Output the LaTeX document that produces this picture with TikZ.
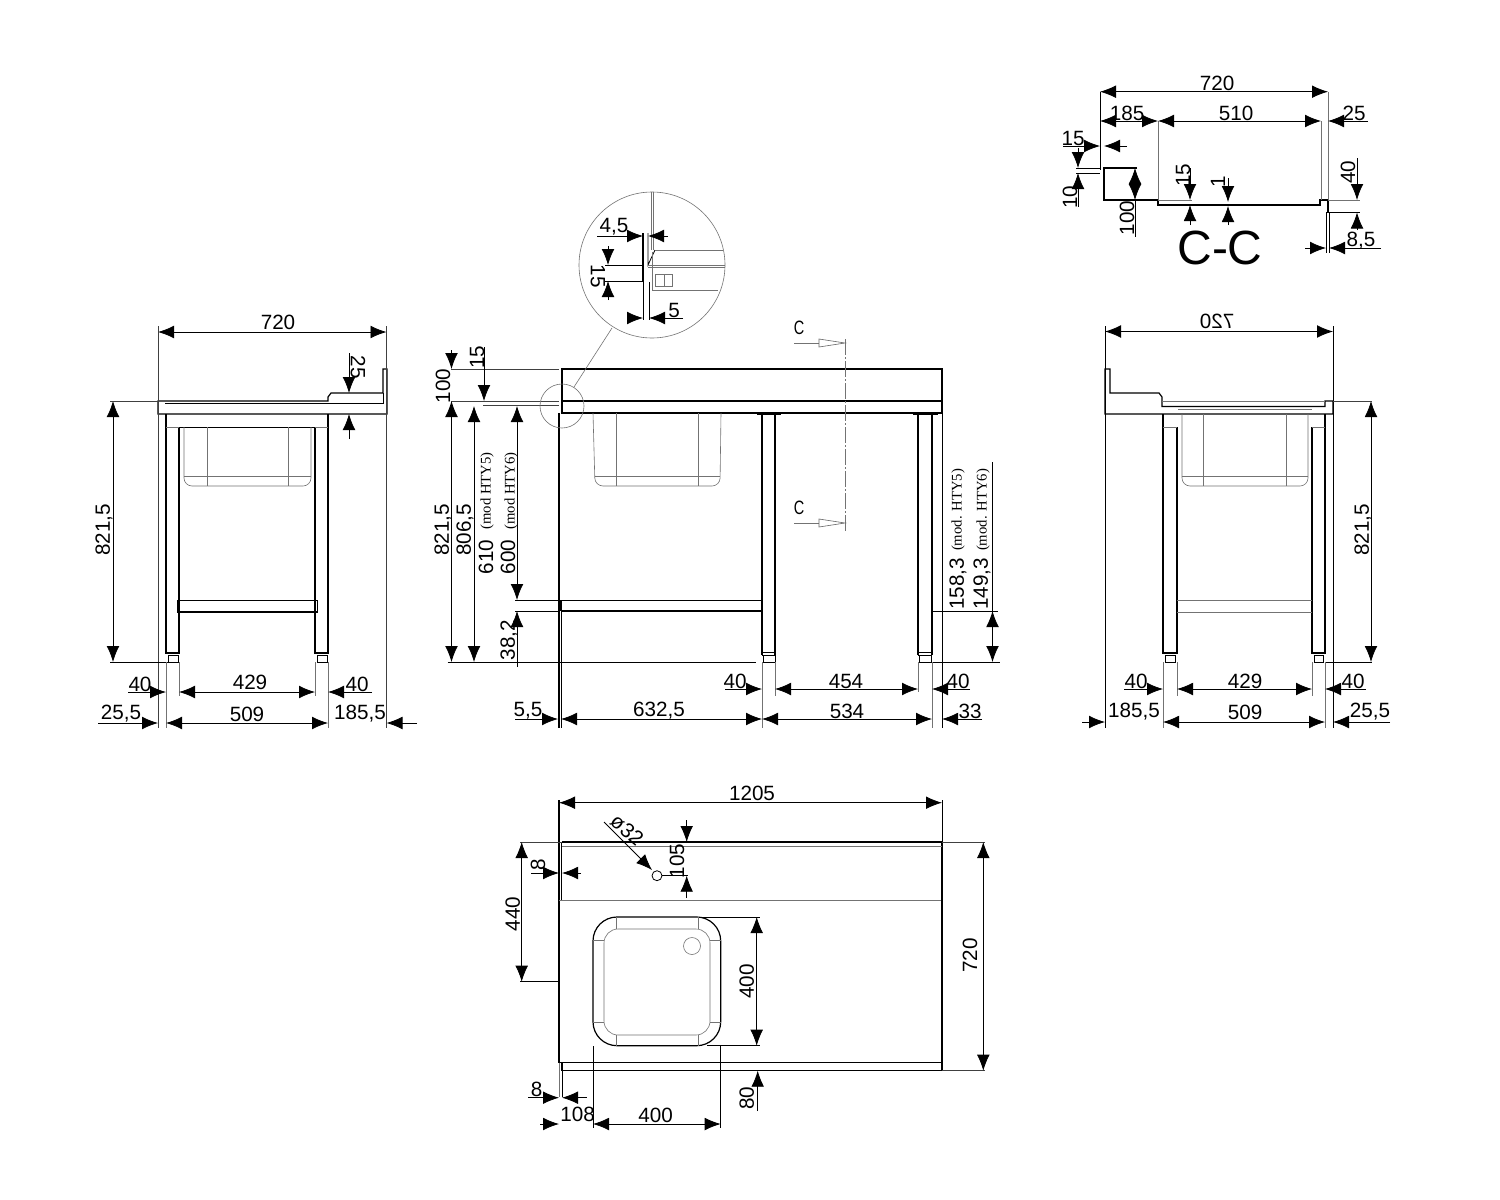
\documentclass[tikz,border=0pt]{standalone}
\usepackage{fontspec}
\setmainfont{Liberation Sans}
\newfontfamily\modfont{Liberation Serif}
\usetikzlibrary{arrows.meta}
\begin{document}
\begin{tikzpicture}[
    x=0.75pt, y=-0.75pt,
    >={Latex[length=12pt, width=9.5pt]},
    part/.style={line width=0.9pt, black},
    edge/.style={line width=0.6pt, black},
    hair/.style={line width=0.45pt, black!55},
    ext/.style={line width=0.5pt, black!75},
    dim/.style={line width=0.6pt, black},
    lab/.style={font=\fontsize{15.5}{17}\selectfont, inner sep=0pt},
    vlab/.style={lab, rotate=90},
    dlab/.style={lab, rotate=-90},
    modlab/.style={font=\modfont\fontsize{11}{13}\selectfont, inner sep=0pt, rotate=90},
    sect/.style={font=\fontsize{14.5}{16}\selectfont, inner sep=0pt, xscale=0.75, transform shape},
    hollow/.style={line width=0.45pt, black!60, fill=white}
]
\path[use as bounding box, fill=white] (0,0) rectangle (1500,1200);

% Left side view
\draw[part] (158,414) -- (158,401) -- (328,401) -- (328,397) -- (331,393) -- (383,393) -- (383,369) -- (387,369) -- (387,414) -- cycle;
\draw[edge] (165,403) -- (383,403) -- (383,393);
\draw[part] (166,414) -- (166,653) -- (179,653) -- (179,427);
\draw[part] (315,427) -- (315,653) -- (328,653) -- (328,414);
\draw[edge] (179,427) -- (315,427);
\draw[hair] (166,427) -- (179,427) (315,427) -- (328,427);
\draw[hair, rounded corners=6pt] (184,427) -- (184,486) -- (311,486) -- (311,427);
\draw[hair] (184,476) -- (311,476) (207,427) -- (207,486) (288,427) -- (288,486);
\draw[edge] (177,600) rectangle (317,612);
\draw[part] (177,612) -- (317,612);
\draw[edge] (168,655) rectangle (178,662);
\draw[edge] (317,655) rectangle (327,662);

\draw[dim, <->] (158,332) -- (386.5,332);
\node[lab] (left-720) at (278,322) {720};
\draw[ext] (158,326) -- (158,728);
\draw[ext] (386.5,326) -- (386.5,728);
\draw[dim, <->] (113,401) -- (113,662);
\node[vlab] (left-821) at (104,530) {821,5};
\draw[ext] (110,401) -- (158,401);
\draw[dim] (110,662) -- (168,662);
\draw[dim, ->] (349,353) -- (349,393);
\node[dlab] (left-25) at (358,367) {25};
\draw[dim, ->] (349,439) -- (349,414);
\foreach \x in {166,179,315,328} \draw[hair] (\x,662) -- (\x,696);
\foreach \x in {166,328} \draw[hair] (\x,696) -- (\x,728);
\draw[dim, ->] (128,692) -- (166,692);
\node[lab] (left-40a) at (140,684) {40};
\draw[dim, <->] (179,692) -- (315,692);
\node[lab] (left-429) at (250,682) {429};
\draw[dim, ->] (372,692) -- (328,692);
\node[lab] (left-40b) at (357,684) {40};
\draw[dim, ->] (98,723) -- (158,723);
\node[lab] (left-255) at (121,714) {25,5};
\draw[dim, <->] (166,723) -- (328,723);
\node[lab] (left-509) at (247,714) {509};
\draw[dim, ->] (417,723) -- (386.5,723);
\node[lab] (left-1855) at (360,714) {185,5};

% Front view
\draw[part] (562,413) -- (562,369) -- (942,369) -- (942,413) -- cycle;
\draw[part] (562,401) -- (942,401);
\draw[part] (559,413) -- (559,728);
\draw[edge] (561,600) -- (561,728);
\draw[part] (762,413) -- (762,655) (775,413) -- (775,655);
\draw[part] (918,413) -- (918,655) (932,413) -- (932,655);
\draw[edge] (942,413) -- (942,728);
\draw[part] (757,414) -- (781,414) (913,414) -- (938,414);
\draw[edge] (762,652) -- (775,652) (762,655) -- (775,655) (918,652) -- (932,652) (918,655) -- (932,655);
\draw[edge] (763,655) rectangle (775,662);
\draw[edge] (919,655) rectangle (931,662);
\draw[edge] (561,600) -- (762,600);
\draw[part] (561,611) -- (762,611);
\draw[line width=2pt] (561,600) -- (561,611);
\draw[hair, rounded corners=6pt] (593,413) -- (595,486) -- (720,486) -- (721,413);
\draw[hair] (595,476) -- (720,476) (616,413) -- (616,486) (698,413) -- (698,486);

% Section marks
\draw[hair, dash pattern=on 12pt off 1.5pt on 1.5pt off 1.5pt] (845,339) -- (845,531);
\foreach \y/\n in {343/a,523/b} {
  \draw[hair] (794,\y) -- (819,\y);
  \draw[hollow] (819,\y-4) -- (845,\y) -- (819,\y+4) -- cycle;
}
\node[sect] (sect-c1) at (799,328) {C};
\node[sect] (sect-c2) at (799,508) {C};

% Front view, vertical dimensions
\draw[ext] (451,369) -- (559,369) (451,401) -- (559,401) (483,405.5) -- (559,405.5);
\draw[dim, ->] (451.5,350) -- (451.5,369);
\node[vlab] (front-100) at (443,386) {100};
\draw[dim, <->] (451.5,401) -- (451.5,662);
\node[vlab] (front-821) at (443,530) {821,5};
\draw[dim, ->] (484,347) -- (484,401);
\node[vlab] (front-15) at (477,357) {15};
\draw[dim, <->] (474,406) -- (474,662);
\node[vlab] (front-806) at (465,530) {806,5};
\node[vlab] (front-610) at (486,557) {610};
\node[modlab] (front-mod5) at (487,491) {(mod HTY5)};
\draw[dim, <->] (517,406) -- (517,600);
\node[vlab] (front-600) at (508,557) {600};
\node[modlab] (front-mod6) at (511,491) {(mod HTY6)};
\draw[dim] (515,600) -- (559,600) (515,611) -- (559,611);
\draw[dim, <-] (517,611) -- (517,667);
\node[vlab] (front-382) at (509,640) {38,2};
\draw[dim] (447.5,662) -- (756,662) (932,662) -- (1000,662);
\draw[dim] (932,611) -- (998,611);
\draw[dim] (992.5,462) -- (992.5,611);
\draw[dim, <->] (992.5,611) -- (992.5,662);
\node[vlab] (front-158) at (958,584) {158,3};
\node[modlab] (front-mod5b) at (958,510) {(mod. HTY5)};
\node[vlab] (front-149) at (982,584) {149,3};
\node[modlab] (front-mod6b) at (983,510) {(mod. HTY6)};

% Front view, horizontal dimensions
\foreach \x/\b in {762/728,775/696,918/692,932/728} \draw[hair] (\x,662) -- (\x,\b);
\draw[dim, ->] (725,689) -- (762,689);
\node[lab] (front-40a) at (735,681) {40};
\draw[dim, <->] (775,689) -- (918,689);
\node[lab] (front-454) at (846,681) {454};
\draw[dim, ->] (970,689) -- (932,689);
\node[lab] (front-40b) at (958,681) {40};
\draw[dim, ->] (515,719) -- (558,719);
\node[lab] (front-55) at (528,711) {5,5};
\draw[dim, <->] (561,719) -- (762,719);
\node[lab] (front-632) at (659,711) {632,5};
\draw[dim, <->] (762,719) -- (932,719);
\node[lab] (front-534) at (847,711) {534};
\draw[dim, ->] (982,719) -- (942,719);
\node[lab] (front-33) at (970,711) {33};

% Detail circle
\draw[hair] (562,406) circle (22);
\draw[hair] (652,265) circle (73);
\draw[hair] (574,387) -- (612,328);
\draw[hair] (651,192) -- (651,250) (653,192) -- (653,250);
\draw[line width=1.3pt] (643,233) -- (643,282);
\draw[edge] (643,282) -- (643,320) (649,282) -- (649,320);
\draw[edge] (648,233) -- (648,265) -- (655,250);
\draw[hair] (655,250) -- (723,250) (652.7,252) -- (652.7,290) -- (718,290);
\draw[hair] (648,265) -- (725,265) (648,267) -- (725,267);
\draw[hair] (655,274) rectangle (672,286) (664,274) -- (664,286);
\draw[dim, ->] (597,236) -- (643,236);
\draw[dim, ->] (668,236) -- (648,236);
\node[lab] (detail-45) at (614,227) {4,5};
\draw[dim] (605,265) -- (643,265) (605,281) -- (643,281);
\draw[dim, ->] (608,246) -- (608,265);
\draw[dim, ->] (608,300) -- (608,281);
\node[dlab] (detail-15) at (598,276) {15};
\draw[dim, ->] (627,318) -- (643,318);
\draw[dim, ->] (683,318) -- (649,318);
\node[lab] (detail-5) at (674,310) {5};

% Right side view
\draw[part] (1105,414) -- (1105,369) -- (1110,369) -- (1110,393) -- (1159,393) -- (1162,397) -- (1162,406.5) -- (1325,406.5) -- (1325,401) -- (1333,401) -- (1333,414) -- cycle;
\draw[hair] (1162,401) -- (1325,401) (1178,409) -- (1312,409);
\draw[part] (1163,414) -- (1163,653) -- (1177,653) -- (1177,427);
\draw[part] (1312,427) -- (1312,653) -- (1325,653) -- (1325,414);
\draw[hair] (1163,427) -- (1177,427) (1312,427) -- (1325,427);
\draw[hair, rounded corners=6pt] (1182,414) -- (1182,486) -- (1308,486) -- (1308,414);
\draw[hair] (1182,476) -- (1308,476) (1203,414) -- (1203,486) (1286,414) -- (1286,486);
\draw[hair] (1177,600) -- (1312,600) (1177,612) -- (1312,612);
\draw[edge] (1165,655) rectangle (1175,662);
\draw[edge] (1314,655) rectangle (1323,662);

\draw[dim, <->] (1105,331.5) -- (1333,331.5);
\node[lab, xscale=-1, transform shape] (right-720) at (1217,321) {720};
\draw[dim] (1105,326) -- (1105,728) (1333,326) -- (1333,728);
\draw[dim, <->] (1371,401) -- (1371,662);
\node[vlab] (right-821) at (1363,530) {821,5};
\draw[ext] (1333,401) -- (1372,401);
\draw[dim] (1325,662) -- (1372,662);
\foreach \x/\b in {1163/728,1177/696,1312/696,1325/728} \draw[hair] (\x,662) -- (\x,\b);
\draw[dim, ->] (1124,689) -- (1163,689);
\node[lab] (right-40a) at (1136,681) {40};
\draw[dim, <->] (1177,689) -- (1312,689);
\node[lab] (right-429) at (1245,681) {429};
\draw[dim, ->] (1366,689) -- (1325,689);
\node[lab] (right-40b) at (1353,681) {40};
\draw[dim, ->] (1082,722) -- (1105,722);
\node[lab] (right-1855) at (1134,712) {185,5};
\draw[dim, <->] (1163,722) -- (1325,722);
\node[lab] (right-509) at (1245,712) {509};
\draw[dim, ->] (1390,722) -- (1333,722);
\node[lab] (right-255) at (1370,712) {25,5};

% Section C-C
\draw[dim] (1100,92) -- (1100,170);
\draw[part] (1137,168) -- (1104,168) -- (1104,200) -- (1158,200) -- (1158,205) -- (1320,205) -- (1320,200) -- (1328,200) -- (1328,212);
\draw[hair] (1158,121) -- (1158,200) (1321,121) -- (1321,200) (1328,92) -- (1328,200);
\draw[hair] (1158,200) -- (1192,200) (1328,200) -- (1360,200);
\draw[dim] (1326,212) -- (1326,253) (1329,212) -- (1329,253) (1326,212.5) -- (1360,212.5);
\draw[dim] (1076,168) -- (1100,168) (1076,173) -- (1100,173);
\draw[dim, <->] (1100,91.7) -- (1328,91.7);
\node[lab] (sect-720) at (1217,83) {720};
\draw[dim, <->] (1100,121) -- (1158,121);
\node[lab] (sect-185) at (1127,113) {185};
\draw[dim, <->] (1158,121) -- (1321,121);
\node[lab] (sect-510) at (1236,113) {510};
\draw[dim, ->] (1368,121) -- (1328,121);
\node[lab] (sect-25) at (1354,113) {25};
\draw[dim, ->] (1063,146) -- (1100,146);
\node[lab] (sect-15a) at (1073,138) {15};
\draw[dim, ->] (1127,146) -- (1104,146);
\draw[dim, ->] (1078,148) -- (1078,168);
\draw[dim, ->] (1078,207) -- (1078,173);
\node[vlab] (sect-10) at (1070,197) {10};
\draw[dim, <->] (1135,168) -- (1135,200);
\draw[dim] (1135,200) -- (1135,237);
\node[vlab] (sect-100) at (1127,218) {100};
\draw[dim, ->] (1190,168) -- (1190,200);
\draw[dim, ->] (1190,225) -- (1190,205);
\node[vlab] (sect-15b) at (1183,175) {15};
\draw[dim, ->] (1228,178) -- (1228,202);
\draw[dim, ->] (1228,225) -- (1228,206);
\node[vlab] (sect-1) at (1218,182) {1};
\draw[dim, ->] (1357,158) -- (1357,200);
\draw[dim, ->] (1357,230) -- (1357,212.5);
\node[vlab] (sect-40) at (1348,172) {40};
\draw[dim, ->] (1305,248) -- (1326,248);
\draw[dim, ->] (1381,248) -- (1329,248);
\node[lab] (sect-85) at (1361,241) {8,5};
\node[inner sep=0pt, font=\fontsize{36}{38}\selectfont] (sect-title) at (1220,248) {C-C};

% Plan view
\draw[part] (562,842) -- (942,842) -- (942,1070.7) -- (562,1070.7) -- (562,1062.7);
\draw[part] (559,800) -- (559,1062.7) -- (942,1062.7);
\draw[edge] (561.7,842) -- (561.7,900);
\draw[hair] (562,846.7) -- (942,846.7) (559,900.7) -- (941,900.7);
\draw[hair] (559,1062.7) -- (559,1097);
\draw[edge] (942,800) -- (942,842);
\draw[part, rounded corners=18pt] (593,917) rectangle (720.7,1045.7);
\draw[hair, rounded corners=10.5pt] (604,929) rectangle (710,1035);
\foreach \x in {616,698} \draw[hair] (\x,917) -- (\x,929) (\x,1035) -- (\x,1045.7);
\foreach \y in {940.7,1022.7} \draw[hair] (593,\y) -- (604,\y) (710,\y) -- (720.7,\y);
\draw[hair] (692,946) circle (8.5);
\draw[edge] (657,875.7) circle (5);

\draw[dim, <->] (559,802.7) -- (942,802.7);
\node[lab] (plan-1205) at (752,793) {1205};
\draw[ext] (520,842) -- (562,842) (942,842) -- (985,842) (942,1070.7) -- (985,1070.7);
\draw[dim] (520,981.7) -- (558,981.7);
\draw[dim, <->] (521.7,842) -- (521.7,981.7);
\node[vlab] (plan-440) at (512.7,914) {440};
\draw[dim, ->] (531,873) -- (559,873);
\draw[dim, ->] (581,873) -- (562,873);
\node[vlab] (plan-8a) at (538,865) {8};
\draw[dim, ->] (604,822) -- (652,870);
\node[lab, rotate=-40] (plan-d32) at (627,830) {ø32};
\draw[dim, ->] (686.7,820) -- (686.7,842);
\draw[dim, ->] (686.7,898) -- (686.7,875.7);
\draw[dim] (662,875.7) -- (688,875.7);
\node[vlab] (plan-105) at (677,861) {105};
\draw[dim] (700,917) -- (760,917) (707,1045.7) -- (760,1045.7);
\draw[dim, <->] (756.7,917) -- (756.7,1045.7);
\node[vlab] (plan-400a) at (746.7,981.7) {400};
\draw[dim, <->] (983.3,842) -- (983.3,1070.7);
\node[vlab] (plan-720) at (970,955.7) {720};
\draw[dim, ->] (757.7,1111) -- (757.7,1070.7);
\node[vlab] (plan-80) at (746.7,1098) {80};
\draw[dim, ->] (528,1097.7) -- (559,1097.7);
\draw[dim, ->] (586.7,1097.7) -- (562,1097.7);
\node[lab] (plan-8b) at (536.7,1089) {8};
\draw[dim] (562,1070.7) -- (562,1097);
\draw[dim, ->] (540,1124) -- (559,1124);
\node[lab] (plan-108) at (577.7,1114) {108};
\draw[dim] (593,1046) -- (593,1128) (720.7,1046) -- (720.7,1128);
\draw[dim, <->] (593,1124) -- (720.7,1124);
\node[lab] (plan-400b) at (655.7,1115) {400};

\end{tikzpicture}
\end{document}
